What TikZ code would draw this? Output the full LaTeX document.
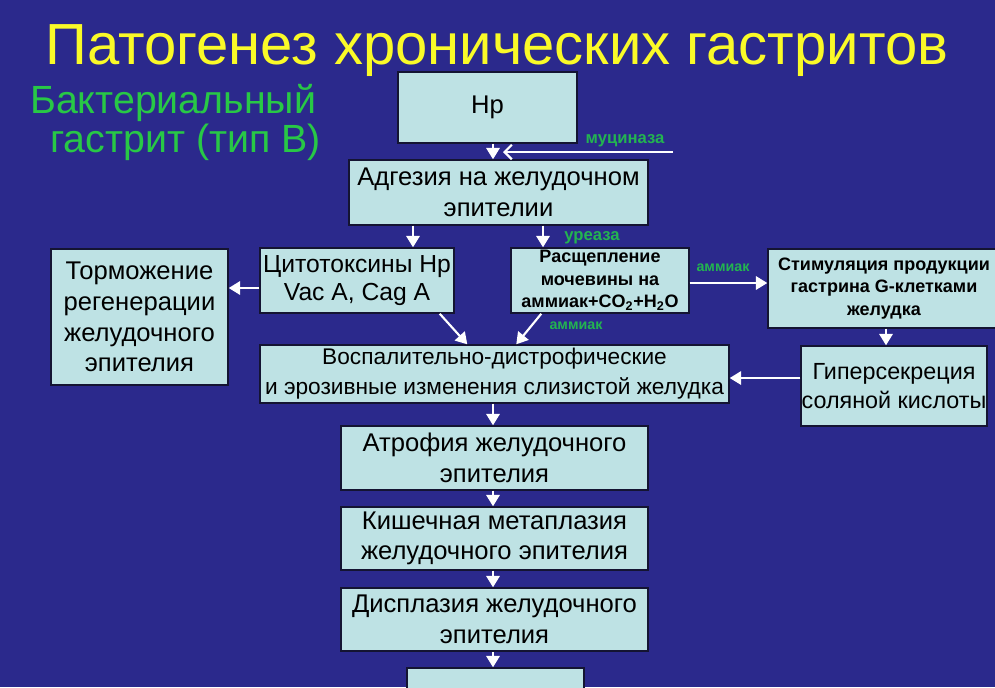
\documentclass[tikz,border=0pt]{standalone}
\usepackage{fontspec}
\setmainfont{Liberation Sans}
\usetikzlibrary{arrows.meta,calc}
\definecolor{bg}{RGB}{43,41,140}
\definecolor{boxfill}{RGB}{190,226,228}
\definecolor{boxline}{RGB}{20,20,50}
\definecolor{ttl}{RGB}{250,250,40}
\definecolor{subt}{RGB}{40,200,70}
\definecolor{lbl}{RGB}{35,180,80}
\begin{document}
\begin{tikzpicture}[x=0.75pt,y=-0.75pt,
 box/.style={draw=boxline, line width=1.1pt, fill=boxfill, text=black, align=center, inner sep=0pt, font=\fontsize{19.2}{23}\selectfont},
 boldbox/.style={box, font=\bfseries\fontsize{13.5}{17}\selectfont},
 arr/.style={draw=white, line width=1.6pt, -{Triangle[width=10pt,length=8.5pt]}},
 barb/.style={draw=white, line width=1.6pt, -{Straight Barb[width=11pt,length=5.5pt]}},
 lab/.style={text=lbl, font=\bfseries\fontsize{12.5}{14}\selectfont},
 slab/.style={text=lbl, font=\bfseries\fontsize{10.7}{12}\selectfont}]
\fill[bg] (0,0) rectangle (995,687);
\useasboundingbox (0,0) rectangle (995,687);

% titles
\node[text=ttl, anchor=base, font=\fontsize{43.5}{50}\selectfont, inner sep=0pt] (title) at (497,64) {Патогенез хронических гастритов};
\node[text=subt, anchor=base west, font=\fontsize{29.5}{34}\selectfont, inner sep=0pt] (sub1) at (30,113) {Бактериальный};
\node[text=subt, anchor=base west, font=\fontsize{29.5}{34}\selectfont, inner sep=0pt] (sub2) at (50,152) {гастрит (тип В)};

% boxes
\node[box, minimum width=134.25pt, minimum height=53.25pt] (hp) at (487.5,107.5) {Hp};
\node[box, minimum width=224.25pt, minimum height=48.75pt] (adg) at (498.5,192.5) {Адгезия на желудочном\\эпителии};
\node[box, font=\fontsize{18.5}{21.5}\selectfont, minimum width=145.5pt, minimum height=48.75pt] (cyto) at (357,280.5) {Цитотоксины Hp\\Vac A, Cag A};
\node[box, minimum width=132.75pt, minimum height=102pt] (torm) at (139.5,317) {Торможение\\регенерации\\желудочного\\эпителия};
\node[boldbox, minimum width=133.5pt, minimum height=48.75pt] (ras) at (600,280.5) {Расщепление\\мочевины на\\аммиак+CO\textsubscript{2}+H\textsubscript{2}O};
\node[boldbox, minimum width=174pt, minimum height=59.25pt] (stim) at (884,288.5) {Стимуляция продукции\\гастрина G-клетками\\желудка};
\node[box, font=\fontsize{17}{22.5}\selectfont, minimum width=351.75pt, minimum height=43.5pt] (vos) at (494.5,374) {Воспалительно-дистрофические\\и эрозивные изменения слизистой желудка};
\node[box, font=\fontsize{17.5}{22}\selectfont, minimum width=139.5pt, minimum height=60pt] (gip) at (894,386) {Гиперсекреция\\соляной кислоты};
\node[box, minimum width=230.25pt, minimum height=48pt] (atr) at (494.5,458) {Атрофия желудочного\\эпителия};
\node[box, minimum width=230.25pt, minimum height=47.25pt] (kish) at (494.5,538.5) {Кишечная метаплазия\\желудочного эпителия};
\node[box, minimum width=230.25pt, minimum height=47.25pt] (disp) at (494.5,619.5) {Дисплазия желудочного\\эпителия};
\node[box, minimum width=132.75pt, minimum height=31.5pt] (last) at (495.5,689) {};

% helper coordinates
\coordinate (x493) at (493,0);
\coordinate (x413) at (413,0);
\coordinate (x543) at (543,0);
\coordinate (x886) at (886,0);
\coordinate (y288) at (0,288);
\coordinate (y283) at (0,283);
\coordinate (y378) at (0,378);
\coordinate (mucstart) at (673,152);
\coordinate (mucend) at (503,152);

% arrows
\draw[arr] (hp.south -| x493) -- (adg.north -| x493);
\draw[barb] (mucstart) -- (mucend);
\draw[arr] (adg.south -| x413) -- (cyto.north -| x413);
\draw[arr] (adg.south -| x543) -- (ras.north -| x543);
\draw[arr] (cyto.west |- y288) -- (torm.east |- y288);
\draw[arr] ($(cyto.south east)+(-15,0)$) -- ($(vos.north west)+(208,0)$);
\draw[arr] ($(ras.south west)+(31,0)$) -- ($(vos.north west)+(257,0)$);
\draw[arr] (ras.east |- y283) -- (stim.west |- y283);
\draw[arr] (stim.south -| x886) -- (gip.north -| x886);
\draw[arr] (gip.west |- y378) -- (vos.east |- y378);
\draw[arr] (vos.south -| x493) -- (atr.north -| x493);
\draw[arr] (atr.south -| x493) -- (kish.north -| x493);
\draw[arr] (kish.south -| x493) -- (disp.north -| x493);
\draw[arr] (disp.south -| x493) -- (last.north -| x493);

% labels
\node[lab] (lmuc) at (625,141) {муциназа};
\node[lab] (lure) at (592,238) {уреаза};
\node[slab] (lamm1) at (723,268) {аммиак};
\node[slab] (lamm2) at (576,326) {аммиак};
\end{tikzpicture}
\end{document}
